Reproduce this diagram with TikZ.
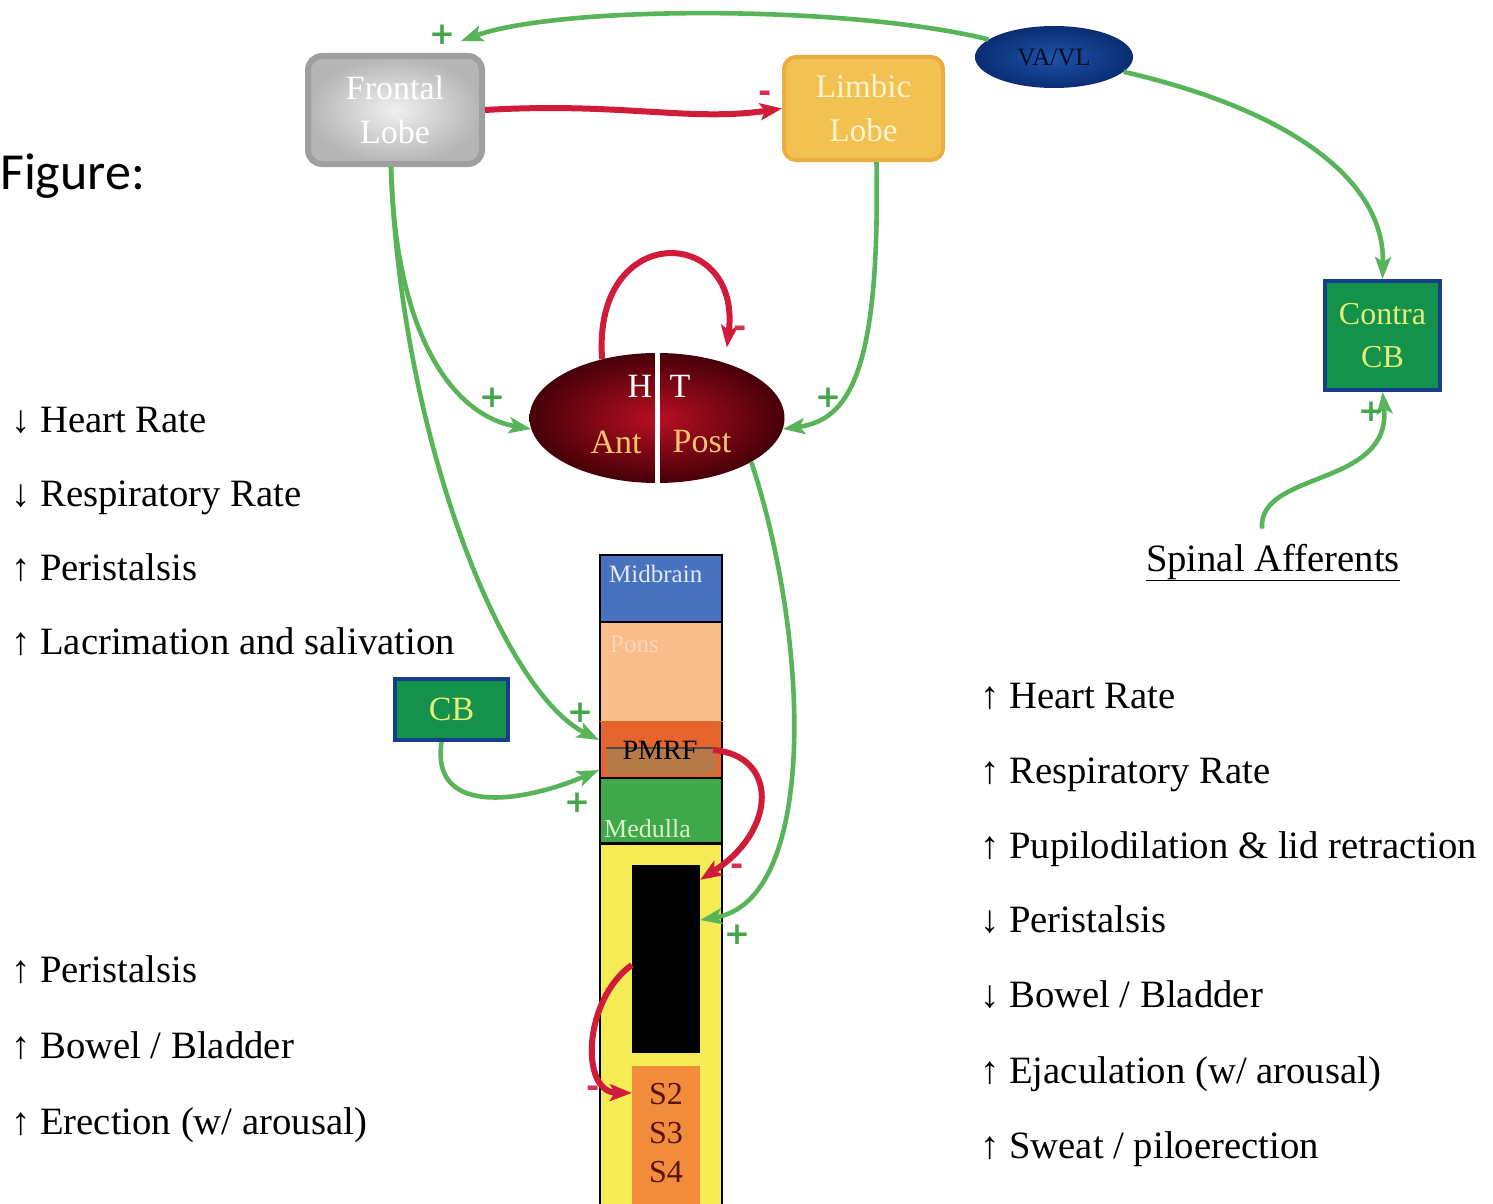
\documentclass[tikz,border=0pt]{standalone}
\usepackage{fontspec}
\setmainfont{Liberation Serif}
\newfontfamily\figfont{Carlito}
\newfontfamily\signfont{DejaVu Sans}
\usetikzlibrary{shapes.geometric,arrows.meta}
\definecolor{garrow}{RGB}{88,180,88}
\definecolor{gsign}{RGB}{70,165,75}
\definecolor{rarrow}{RGB}{208,28,58}
\definecolor{rsign}{RGB}{210,50,85}
\definecolor{cbgreen}{RGB}{20,145,75}
\definecolor{cbblue}{RGB}{22,62,138}
\definecolor{cbtext}{RGB}{228,238,120}
\definecolor{limbfill}{RGB}{241,193,82}
\definecolor{limbdraw}{RGB}{234,174,64}
\definecolor{limbtext}{RGB}{255,244,205}
\definecolor{midc}{RGB}{72,114,190}
\definecolor{ponsc}{RGB}{248,189,138}
\definecolor{pmrfc}{RGB}{230,100,45}
\definecolor{pmrfin}{RGB}{182,122,72}
\definecolor{medc}{RGB}{62,168,74}
\definecolor{cordc}{RGB}{245,236,85}
\definecolor{sacc}{RGB}{240,140,60}
\definecolor{sactext}{RGB}{90,18,18}
\definecolor{htgold}{RGB}{242,196,106}
\begin{document}
\begin{tikzpicture}[x=1pt,y=-1pt,
  gline/.style={draw=garrow, line width=4.6pt, -{Stealth[length=22pt,width=16pt,inset=5pt]}},
  rline/.style={draw=rarrow, line width=6pt, -{Stealth[length=22pt,width=17pt,inset=5pt]}},
  plussign/.style={text=gsign, font=\signfont\bfseries\fontsize{31}{31}\selectfont, inner sep=0pt},
  minussign/.style={text=rsign, font=\signfont\bfseries\fontsize{32}{32}\selectfont, inner sep=0pt},
  sidetext/.style={anchor=base west, font=\fontsize{38.7}{40}\selectfont, inner sep=0pt},
  greenbox/.style={draw=cbblue, line width=4pt, fill=cbgreen, text=cbtext, align=center, inner sep=0pt},
  sect/.style={draw=black, line width=2pt, minimum width=122pt, inner sep=0pt},
  lbl/.style={inner sep=0pt}
]
\path[fill=white] (0,0) rectangle (1493,1204);
\useasboundingbox (0,0) rectangle (1493,1204);

% Figure label
\node[lbl, anchor=west, font=\figfont\fontsize{52}{54}\selectfont] (figlabel) at (0,176) {Figure:};

% top boxes
\node[draw=gray!75, line width=6pt, rounded corners=14pt, shading=radial, inner color=gray!12, outer color=gray!58,
      minimum width=174pt, minimum height=108pt, align=center, text=white,
      font=\fontsize{34}{44}\selectfont] (frontal) at (395,110) {Frontal\\Lobe};
\node[draw=limbdraw, line width=4pt, rounded corners=12pt, fill=limbfill,
      minimum width=159pt, minimum height=103pt, align=center, text=limbtext,
      font=\fontsize{33}{44}\selectfont] (limbic) at (863.5,108.5) {Limbic\\Lobe};
\node[ellipse, minimum width=158pt, minimum height=62pt, inner sep=0pt, shading=radial,
      inner color={rgb,255:red,30;green,82;blue,170}, outer color={rgb,255:red,10;green,45;blue,115},
      text={rgb,255:red,8;green,12;blue,30}, font=\fontsize{25}{25}\selectfont] (vavl) at (1054,57) {VA/VL};

% Contra CB
\node[greenbox, minimum width=115pt, minimum height=109pt, font=\fontsize{32}{43}\selectfont] (contra) at (1382.5,335.5) {Contra\\CB};
\node[lbl, anchor=base, font=\fontsize{38.7}{40}\selectfont] (spinal) at (1273,571) {\underline{Spinal Afferents}};

% hypothalamus
\node[ellipse, minimum width=255pt, minimum height=130pt, inner sep=0pt, shading=radial,
      inner color={rgb,255:red,185;green,15;blue,35}, outer color={rgb,255:red,70;green,0;blue,8}] (ht) at (657,418) {};
\draw[white, line width=5pt] (ht.north) -- (ht.south);
\node[lbl, text=white, font=\fontsize{34}{34}\selectfont] (htH) at (640,386) {H};
\node[lbl, text=white, font=\fontsize{34}{34}\selectfont] (htT) at (680,386) {T};
\node[lbl, text=htgold, font=\fontsize{34}{34}\selectfont] (htAnt) at (616,442) {Ant};
\node[lbl, text=htgold, font=\fontsize{34}{34}\selectfont] (htPost) at (702,442) {Post};

% brainstem column
\node[sect, fill=cordc, minimum height=366pt] (cord) at (661,1026) {};
\node[sect, fill=midc, minimum height=67pt] (midbrain) at (661,588.5) {};
\node[sect, fill=ponsc, minimum height=100pt] (pons) at (661,672) {};
\node[sect, fill=pmrfc, draw=pmrfc, minimum height=56pt] (pmrf) at (661,750) {};
\fill[pmrfin] (606,749) rectangle (716,774);
\draw[black, line width=2pt] (600,722) -- (600,778) (722,722) -- (722,778);
\draw[black!70, line width=1.5pt] (606,748) -- (716,748);
\node[sect, fill=medc, minimum height=65pt] (medulla) at (661,810.5) {};
\draw[black, line width=3pt] (600,843) -- (722,843);
\node[fill=black, minimum width=68pt, minimum height=188pt, inner sep=0pt] (blackbox) at (666,959) {};
\node[fill=sacc, minimum width=68pt, minimum height=138pt, inner sep=0pt] (sacral) at (666,1135) {};
\node[lbl, text=sactext, align=center, font=\fontsize{32}{39}\selectfont] (sacraltext) at (666,1133) {S2\\S3\\S4};

\node[lbl, anchor=west, text={rgb,255:red,225;green,232;blue,248}, font=\fontsize{25}{25}\selectfont] (midtxt) at (609,574) {Midbrain};
\node[lbl, anchor=west, text={rgb,255:red,252;green,215;blue,182}, font=\fontsize{25}{25}\selectfont] (ponstxt) at (610,644) {Pons};
\node[lbl, text=black, font=\fontsize{28}{28}\selectfont] (pmrftxt) at (660,750) {PMRF};
\node[lbl, anchor=west, text={rgb,255:red,215;green,240;blue,200}, font=\fontsize{26}{26}\selectfont] (medtxt) at (604,829) {Medulla};

% CB
\node[greenbox, minimum width=113pt, minimum height=61pt, font=\fontsize{34}{34}\selectfont] (cb) at (451.5,709.5) {CB};

% connectors
\draw[gline] (vavl.165) .. controls (850,5) and (560,5) .. ([xshift=-24pt,yshift=12pt]frontal.north east);
\draw[rline] (frontal.east) .. controls (620,102) and (690,122) .. (limbic.west);
\draw[gline] (vavl.-12) .. controls (1290,110) and (1385,180) .. (contra.north);
\draw[gline] ([xshift=-11pt,yshift=15pt]spinal.north) .. controls (1258,470) and (1392,488) .. (contra.south);
\draw[gline] ([xshift=-4pt]frontal.south) .. controls (395,330) and (450,415) .. (ht.185);
\draw[gline] ([xshift=-4pt]frontal.south) .. controls (400,430) and (500,690) .. ([yshift=10pt]pmrf.west);
\draw[gline] ([xshift=13pt]limbic.south) .. controls (880,370) and (850,420) .. (ht.-5);
\draw[rline] (ht.133) .. controls (592,220) and (742,225) .. ([yshift=16pt]ht.38);
\draw[gline] (ht.-25) .. controls (810,640) and (818,900) .. ([yshift=39pt]blackbox.east);
\draw[gline] ([xshift=-10pt]cb.south) .. controls (430,820) and (530,800) .. ([yshift=-20pt]pmrf.west);
\draw[rline] ([xshift=-10pt]pmrf.east) .. controls (778,755) and (778,830) .. ([yshift=-15pt]blackbox.north east);
\draw[rline] ([yshift=-6pt]blackbox.west) .. controls (583,1000) and (580,1092) .. ([yshift=42pt]sacral.west);

% signs
\node[plussign] (p1) at (442,35) {+};
\node[minussign] (m1) at (765,97) {-};
\node[plussign] (p2) at (492,398) {+};
\node[plussign] (p3) at (828,398) {+};
\node[minussign] (m2) at (740,332) {-};
\node[plussign] (p4) at (1371,412) {+};
\node[plussign] (p5) at (580,713) {+};
\node[plussign] (p6) at (577,803) {+};
\node[minussign] (m3) at (737,870) {-};
\node[plussign] (p7) at (737,935) {+};
\node[minussign] (m4) at (593,1092) {-};

% left texts
\node[sidetext] (l1) at (11,432) {↓ Heart Rate};
\node[sidetext] (l2) at (11,506) {↓ Respiratory Rate};
\node[sidetext] (l3) at (11,580) {↑ Peristalsis};
\node[sidetext] (l4) at (11,654) {↑ Lacrimation and salivation};
\node[sidetext] (l5) at (11,982) {↑ Peristalsis};
\node[sidetext] (l6) at (11,1058) {↑ Bowel / Bladder};
\node[sidetext] (l7) at (11,1134) {↑ Erection (w/ arousal)};

% right texts
\node[sidetext] (r1) at (980,708) {↑ Heart Rate};
\node[sidetext] (r2) at (980,783) {↑ Respiratory Rate};
\node[sidetext] (r3) at (980,858) {↑ Pupilodilation \& lid retraction};
\node[sidetext] (r4) at (980,932) {↓ Peristalsis};
\node[sidetext] (r5) at (980,1007) {↓ Bowel / Bladder};
\node[sidetext] (r6) at (980,1083) {↑ Ejaculation (w/ arousal)};
\node[sidetext] (r7) at (980,1158) {↑ Sweat / piloerection};
\end{tikzpicture}
\end{document}
